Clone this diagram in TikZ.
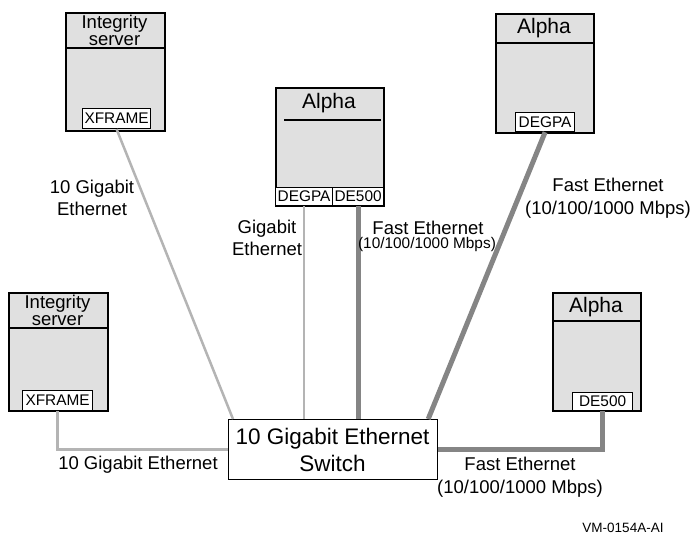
\documentclass[tikz,border=0pt]{standalone}
\usepackage{fontspec}
\setmainfont{Liberation Sans}
\usetikzlibrary{calc}
\definecolor{boxgray}{HTML}{E0E0E0}
\definecolor{lightline}{HTML}{B4B4B4}
\definecolor{darkline}{HTML}{858585}
\begin{document}
\begin{tikzpicture}[x=1pt,y=-1pt,
  comp/.style={draw=black, line width=1.6pt, fill=boxgray, inner sep=0pt, anchor=north west},
  hdr/.style={draw=black, line width=1.4pt},
  ctitle/.style={inner sep=0pt, align=center, font=\fontsize{18.5}{17.5}\selectfont},
  atitle/.style={inner sep=0pt, font=\fontsize{21}{24}\selectfont},
  iface/.style={draw=black, line width=1.2pt, fill=white, inner sep=0pt, anchor=north west, font=\fontsize{15.4}{17}\selectfont},
  thin/.style={draw=lightline, line width=2.5pt},
  thick/.style={draw=darkline, line width=5pt},
  lab/.style={inner sep=0pt, align=center, font=\fontsize{18.5}{22.5}\selectfont},
  smalllab/.style={inner sep=0pt, font=\fontsize{15.4}{17}\selectfont}]
\useasboundingbox (0,0) rectangle (691,538);

% switch
\node[draw=black, line width=1.2pt, fill=white, anchor=north west, minimum width=209pt, minimum height=60pt, inner sep=0pt] (sw) at (228,419) {};
\node[inner sep=0pt, align=center, font=\fontsize{22.5}{27.5}\selectfont] (swt) at (332.5,450) {10 Gigabit Ethernet\\Switch};

% top-left Integrity server
\node[comp, minimum width=99pt, minimum height=118pt] (c1) at (65,12) {};
\draw[hdr] (65,48) coordinate (h1a) -- (164,48) coordinate (h1b);
\node[ctitle] (t1) at (114.5,30.5) {Integrity\\server};
\node[iface, minimum width=68pt, minimum height=20pt] (xf1) at (82,108) {XFRAME};

% middle Alpha
\node[comp, minimum width=108pt, minimum height=118pt] (c2) at (275,87) {};
\draw[hdr] (284,120) coordinate (h2a) -- (381,120) coordinate (h2b);
\node[atitle] (t2) at (329,103) {Alpha};
\node[iface, minimum width=57pt, minimum height=18pt] (dg2) at (275,187) {DEGPA};
\node[iface, minimum width=51pt, minimum height=18pt] (de2) at (332,187) {DE500};

% top-right Alpha
\node[comp, minimum width=98pt, minimum height=119pt] (c3) at (495,13) {};
\draw[hdr] (495,43) coordinate (h3a) -- (593,43) coordinate (h3b);
\node[atitle] (t3) at (544,28) {Alpha};
\node[iface, minimum width=59pt, minimum height=19pt] (dg3) at (515,112) {DEGPA};

% bottom-left Integrity server
\node[comp, minimum width=99pt, minimum height=118pt] (c4) at (8,292) {};
\draw[hdr] (8,328) coordinate (h4a) -- (107,328) coordinate (h4b);
\node[ctitle] (t4) at (57.5,310.5) {Integrity\\server};
\node[iface, minimum width=70pt, minimum height=20pt] (xf4) at (22,390) {XFRAME};

% bottom-right Alpha
\node[comp, minimum width=88pt, minimum height=118pt] (c5) at (552,292) {};
\draw[hdr] (552,321) coordinate (h5a) -- (640,321) coordinate (h5b);
\node[atitle] (t5) at (596,307) {Alpha};
\node[iface, minimum width=60pt, minimum height=18pt] (de5) at (572,392) {DE500};

% connectors
\draw[thin] (xf1.south) -- ($(sw.north west)+(5,0)$);
\draw[thin] (xf4.south) |- (sw.west);
\draw[thin] (dg2.south) -- (dg2.south |- sw.north);
\draw[thick] (de2.south) -- (de2.south |- sw.north);
\draw[thick] (dg3.south) -- ($(sw.north east)+(-10,0)$);
\draw[thick] (de5.south) |- (sw.east);

% labels
\node[lab] (l1) at (92,198) {10 Gigabit\\Ethernet};
\node[lab] (l2) at (267,238) {Gigabit\\Ethernet};
\node[lab] (l3) at (428,228) {Fast Ethernet};
\node[smalllab] (l3b) at (427,245) {(10/100/1000 Mbps)};
\node[lab] (l4) at (608,198) {Fast Ethernet\\(10/100/1000 Mbps)};
\node[lab] (l5) at (138,465) {10 Gigabit Ethernet};
\node[lab] (l6) at (520,477) {Fast Ethernet\\(10/100/1000 Mbps)};
\node[inner sep=0pt, font=\fontsize{13.5}{15}\selectfont] (l7) at (623,528) {VM-0154A-AI};
\end{tikzpicture}
\end{document}
